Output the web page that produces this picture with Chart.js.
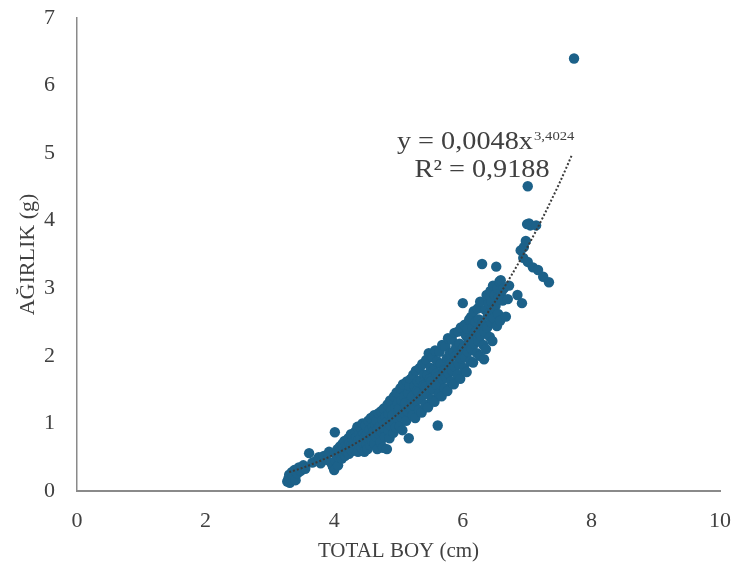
<!DOCTYPE html>
<html>
<head>
<meta charset="utf-8">
<script src="https://cdn.jsdelivr.net/npm/chart.js@4"></script>
<style>
  html, body { margin: 0; padding: 0; background: #fff; }
  #wrap { width: 736px; height: 572px; }
</style>
</head>
<body>
<div id="wrap"><canvas id="chart"></canvas></div>
<script>
// TOTAL BOY (cm), one value per fish
const boyX = [
  3.27, 3.29, 3.30, 3.31, 3.33, 3.34, 3.36, 3.38, 3.40, 3.43, 3.45, 3.48,
  3.52, 3.55, 3.61, 3.66, 3.72, 3.76, 3.79, 3.84, 3.88, 3.92, 3.95, 3.98,
  4.00, 4.01, 4.02, 4.03, 4.05, 4.06, 4.07, 4.08, 4.09, 4.10,
  4.11, 4.12, 4.13, 4.14, 4.15, 4.16, 4.17, 4.18, 4.19, 4.20,
  4.21, 4.22, 4.23, 4.24, 4.25, 4.26, 4.27, 4.28, 4.29, 4.30,
  4.31, 4.32, 4.33, 4.34, 4.35, 4.36, 4.37, 4.38, 4.39, 4.40,
  4.41, 4.42, 4.43, 4.44, 4.45, 4.46, 4.47, 4.48, 4.49, 4.50,
  4.51, 4.52, 4.53, 4.54, 4.55, 4.56, 4.57, 4.58, 4.59, 4.60,
  4.61, 4.62, 4.63, 4.64, 4.65, 4.66, 4.67, 4.68, 4.69, 4.70,
  4.71, 4.72, 4.73, 4.74, 4.75, 4.76, 4.77, 4.78, 4.79, 4.80,
  4.81, 4.82, 4.83, 4.84, 4.85, 4.86, 4.87, 4.88, 4.89, 4.90,
  4.91, 4.92, 4.93, 4.94, 4.95, 4.96, 4.97, 4.98, 4.99, 5.00,
  5.01, 5.02, 5.03, 5.04, 5.05, 5.06, 5.07, 5.08, 5.09, 5.10,
  5.11, 5.12, 5.13, 5.14, 5.15, 5.16, 5.17, 5.18, 5.19, 5.20,
  5.21, 5.22, 5.23, 5.24, 5.25, 5.26, 5.27, 5.28, 5.29, 5.30,
  5.31, 5.32, 5.33, 5.34, 5.35, 5.36, 5.37, 5.38, 5.39, 5.40,
  5.41, 5.42, 5.43, 5.44, 5.45, 5.46, 5.47, 5.48, 5.49, 5.50,
  5.51, 5.52, 5.53, 5.54, 5.55, 5.56, 5.57, 5.58, 5.59, 5.60,
  5.61, 5.62, 5.63, 5.64, 5.65, 5.66, 5.67, 5.68, 5.69, 5.70,
  5.71, 5.72, 5.73, 5.74, 5.75, 5.76, 5.77, 5.78, 5.79, 5.80,
  5.81, 5.82, 5.83, 5.84, 5.85, 5.86, 5.87, 5.88, 5.89, 5.90,
  5.91, 5.92, 5.93, 5.94, 5.95, 5.96, 5.97, 5.98, 5.99, 6.00,
  6.01, 6.02, 6.03, 6.04, 6.05, 6.06, 6.07, 6.08, 6.09, 6.10,
  6.11, 6.12, 6.13, 6.14, 6.15, 6.16, 6.17, 6.18, 6.19, 6.20,
  6.21, 6.22, 6.23, 6.24, 6.25, 6.26, 6.27, 6.28, 6.29, 6.30,
  6.31, 6.32, 6.33, 6.34, 6.35, 6.36, 6.37, 6.38, 6.39, 6.40,
  6.41, 6.42, 6.43, 6.44, 6.45, 6.46, 6.47, 6.48, 6.49, 6.50,
  6.51, 6.52, 6.53, 6.54, 6.55, 6.56, 6.57, 6.58, 6.59, 6.60,
  6.62, 6.64, 6.67, 6.70, 6.72, 6.85, 6.92, 6.90, 6.95, 6.94, 6.98,
  7.00, 7.01, 7.03, 7.05, 7.14, 7.09, 7.17, 7.25, 7.34, 7.01, 7.73
];
// AĞIRLIK (g), same order as boyX
const agirlikY = [
  0.14, 0.19, 0.24, 0.12, 0.17, 0.28, 0.21, 0.31, 0.16, 0.26, 0.35, 0.30,
  0.38, 0.33, 0.56, 0.42, 0.45, 0.50, 0.41, 0.52, 0.46, 0.58, 0.42, 0.36,
  0.31, 0.87, 0.45, 0.55, 0.62, 0.38, 0.50, 0.58, 0.66, 0.53,
  0.60, 0.48, 0.70, 0.56, 0.64, 0.74, 0.52, 0.61, 0.68, 0.57,
  0.66, 0.78, 0.55, 0.71, 0.62, 0.84, 0.68, 0.59, 0.75, 0.70,
  0.73, 0.62, 0.88, 0.68, 0.80, 0.95, 0.58, 0.76, 0.85, 0.66,
  0.78, 0.92, 0.64, 1.00, 0.72, 0.85, 0.58, 0.81, 0.97, 0.70,
  0.84, 0.62, 1.04, 0.76, 0.90, 0.68, 1.08, 0.82, 0.74, 0.95,
  0.88, 1.12, 0.70, 0.98, 0.80, 1.04, 0.62, 0.92, 1.15, 0.84,
  0.96, 0.72, 1.18, 0.88, 1.05, 0.64, 1.22, 0.92, 0.80, 1.10,
  1.02, 0.62, 1.28, 0.90, 1.14, 0.78, 1.34, 0.97, 1.20, 1.06,
  1.12, 0.86, 1.40, 1.00, 1.24, 0.94, 1.46, 1.08, 1.30, 1.18,
  1.22, 0.96, 1.52, 1.10, 1.34, 0.90, 1.58, 1.16, 1.40, 1.28,
  1.30, 1.04, 1.62, 1.18, 1.45, 0.78, 1.56, 1.24, 1.66, 1.36,
  1.40, 1.12, 1.72, 1.26, 1.55, 1.08, 1.78, 1.34, 1.48, 1.62,
  1.46, 1.20, 1.82, 1.36, 1.64, 1.16, 1.88, 1.42, 1.56, 1.72,
  1.54, 1.28, 1.94, 1.44, 1.72, 1.24, 2.04, 1.50, 1.66, 1.82,
  1.62, 1.36, 1.98, 1.50, 1.80, 1.32, 2.08, 1.58, 1.74, 1.92,
  0.97, 1.70, 1.44, 2.06, 1.58, 1.88, 1.40, 2.16, 1.66, 1.80,
  1.78, 1.52, 2.14, 1.68, 1.96, 1.48, 2.26, 1.74, 1.90, 2.04,
  1.88, 1.62, 2.24, 1.78, 2.06, 1.58, 2.34, 1.84, 2.00, 2.14,
  2.00, 1.72, 2.36, 1.88, 2.18, 1.66, 2.42, 1.96, 2.10, 2.78,
  2.12, 1.82, 2.46, 1.98, 2.30, 1.76, 2.40, 2.06, 2.22, 2.54,
  2.24, 1.92, 2.58, 2.10, 2.42, 1.90, 2.66, 2.18, 2.34, 2.50,
  2.36, 2.04, 2.70, 2.22, 2.54, 2.00, 2.80, 2.30, 2.46, 3.36,
  2.48, 2.16, 1.95, 2.36, 2.68, 2.10, 2.90, 2.42, 2.60, 2.78,
  2.62, 2.28, 2.96, 2.50, 2.80, 2.22, 3.04, 2.56, 2.72, 2.90,
  2.74, 3.32, 2.44, 3.00, 2.62, 2.86, 3.10, 2.52, 3.12, 2.94,
  2.82, 3.00, 2.58, 2.84, 3.04, 2.90, 2.78, 3.56, 3.61, 3.45, 3.70,
  3.95, 3.39, 3.96, 3.93, 3.93, 3.31, 3.27, 3.17, 3.09, 4.51, 6.40
];

// power trendline as it is drawn in the picture
const trendX = [3.3, 3.5, 4.0, 4.5, 5.0, 5.5, 6.0, 6.5, 7.0, 7.5, 7.7];
const trendY = [0.28, 0.34, 0.54, 0.80, 1.15, 1.58, 2.13, 2.80, 3.60, 4.55, 4.98];

const xTitle = 'TOTAL BOY (cm)';
const yTitle = 'AĞIRLIK (g)';
const eqMain = 'y = 0,0048x';
const eqPow = '3,4024';
const eqR2 = 'R² = 0,9188';

const serif = '"Liberation Serif", "Times New Roman", serif';
const textColor = '#404040';
const pointColor = '#1c6189';

const scatterData = boyX.map((x, i) => ({ x: x, y: agirlikY[i] }));
const trendData = trendX.map((x, i) => ({ x: x, y: trendY[i] }));

// equation and R² beside the end of the trendline (text is a bit wide in the source)
const equationLabel = {
    id: 'equationLabel',
    afterDatasetsDraw(chart) {
        const ctx = chart.ctx;
        const sx = chart.scales.x, sy = chart.scales.y;
        const stretch = 1.13;
        ctx.save();
        ctx.fillStyle = textColor;
        ctx.textBaseline = 'middle';

        ctx.save();
        ctx.translate(sx.getPixelForValue(7.09), sy.getPixelForValue(5.155));
        ctx.scale(stretch, 1);
        ctx.font = '25px ' + serif;
        ctx.textAlign = 'right';
        ctx.fillText(eqMain, 0, 0);
        ctx.font = '13px ' + serif;
        ctx.textAlign = 'left';
        ctx.fillText(eqPow, 1, -6);
        ctx.restore();

        ctx.save();
        ctx.translate(sx.getPixelForValue(6.30), sy.getPixelForValue(4.75));
        ctx.scale(stretch, 1);
        ctx.font = '25px ' + serif;
        ctx.textAlign = 'center';
        ctx.fillText(eqR2, 0, 0);
        ctx.restore();

        ctx.restore();
    }
};

new Chart(document.getElementById('chart'), {
    type: 'scatter',
    data: {
        datasets: [
            {
                label: 'Trend',
                data: trendData,
                showLine: true,
                borderColor: '#3a3a3a',
                borderWidth: 2,
                borderDash: [2, 2],
                pointRadius: 0,
                cubicInterpolationMode: 'monotone',
                order: 0
            },
            {
                label: 'Ağırlık',
                data: scatterData,
                backgroundColor: pointColor,
                borderColor: pointColor,
                borderWidth: 0,
                pointRadius: 5.2,
                order: 1
            }
        ]
    },
    options: {
        responsive: true,
        maintainAspectRatio: false,
        animation: false,
        layout: { padding: { top: 18, right: 16, left: 0, bottom: 0 } },
        plugins: {
            legend: { display: false },
            tooltip: { enabled: false }
        },
        scales: {
            x: {
                type: 'linear',
                min: 0,
                max: 10,
                grid: { display: false, drawTicks: false },
                border: { color: '#8a8a8a', width: 2 },
                ticks: {
                    stepSize: 2,
                    padding: 17,
                    color: textColor,
                    font: { family: serif, size: 22 }
                },
                title: {
                    display: true,
                    text: xTitle,
                    color: textColor,
                    font: { family: serif, size: 21 },
                    padding: { top: 0, bottom: 8 }
                },
                afterFit(scale) {
                    scale.height = 81;
                    // tick padding would otherwise widen the side margins
                    scale.paddingLeft = 8;
                    scale.paddingRight = 8;
                }
            },
            y: {
                type: 'linear',
                min: 0,
                max: 7,
                grid: { display: false, drawTicks: false },
                border: { color: '#8a8a8a', width: 1.5 },
                ticks: {
                    stepSize: 1,
                    padding: 22,
                    color: textColor,
                    font: { family: serif, size: 22 }
                },
                title: {
                    display: true,
                    text: yTitle,
                    color: textColor,
                    font: { family: serif, size: 22 },
                    padding: { top: 15, bottom: 0 }
                },
                afterFit(scale) {
                    scale.width = 77;
                    scale.paddingTop = 8;
                    scale.paddingBottom = 8;
                }
            }
        }
    },
    plugins: [equationLabel]
});
</script>
</body>
</html>
